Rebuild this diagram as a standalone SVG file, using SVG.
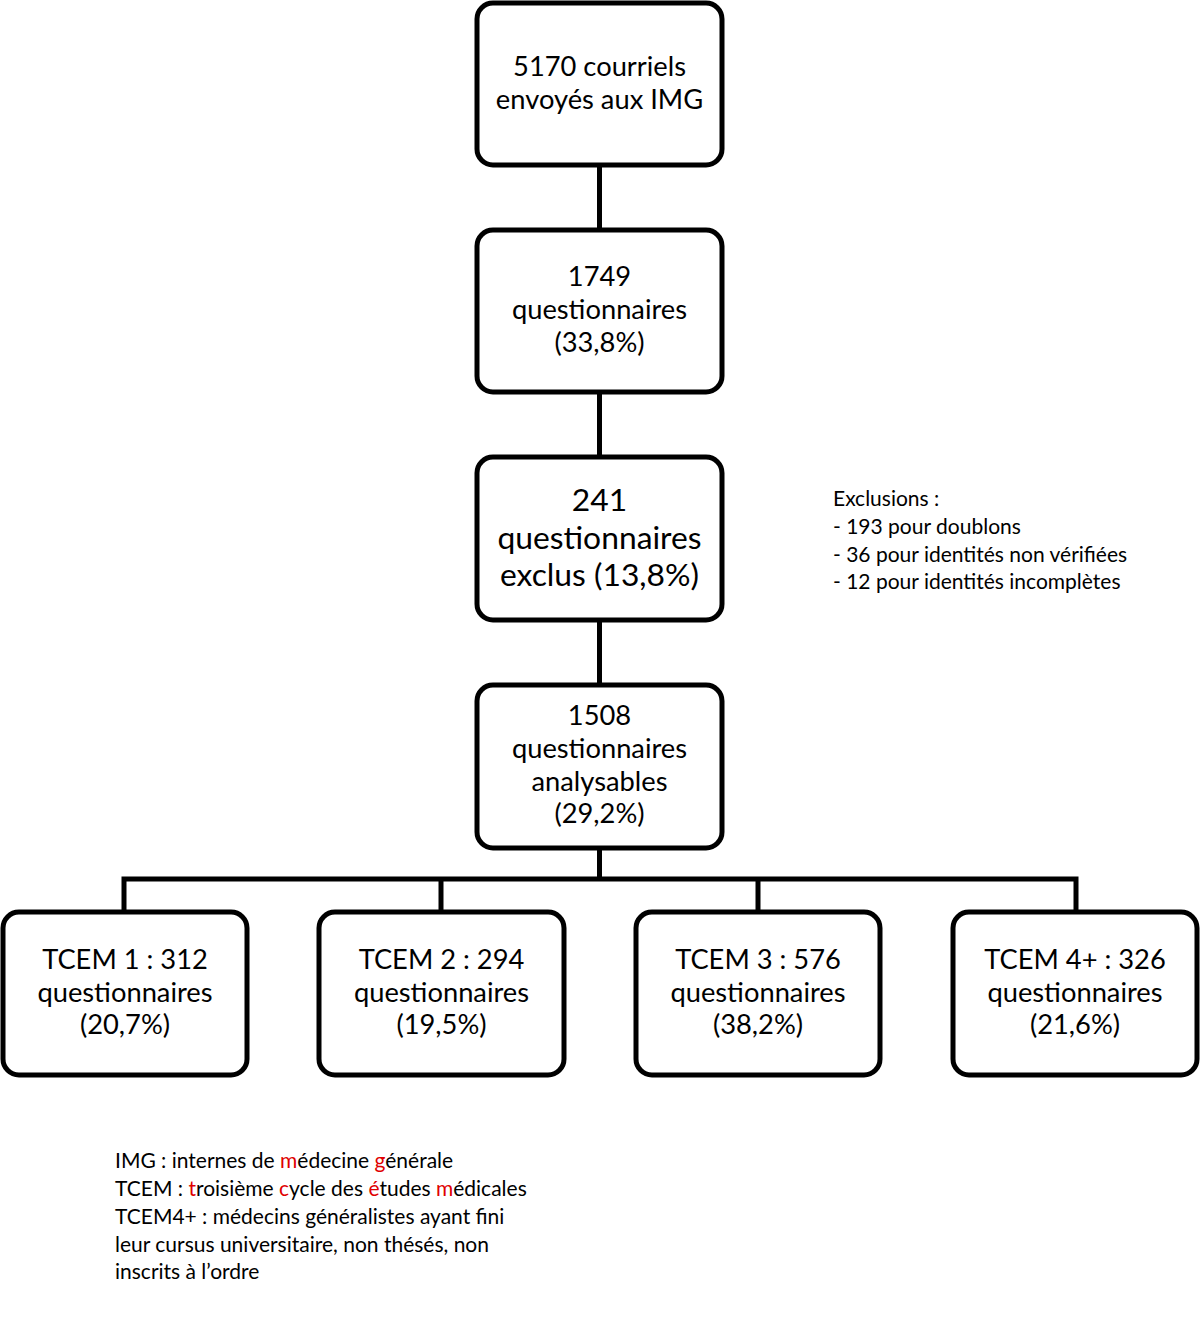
<svg xmlns="http://www.w3.org/2000/svg" width="1200" height="1327" viewBox="0 0 1200 1327">
<style>
.box{fill:#fff;stroke:#000;stroke-width:5}
.t{font-family:Lato,"Open Sans","Liberation Sans",sans-serif;font-size:27.3px;text-anchor:middle;fill:#000}
.tb{font-family:Lato,"Open Sans","Liberation Sans",sans-serif;font-size:31.8px;text-anchor:middle;fill:#000}
.s{font-family:Lato,"Open Sans","Liberation Sans",sans-serif;font-size:21px;fill:#000}
.r{fill:#e00000}
.c{fill:none;stroke:#000;stroke-width:5}
</style>
<rect width="1200" height="1327" fill="#fff"/>
<g id="connectors">
<line class="c" x1="599.5" y1="165" x2="599.5" y2="230"/>
<line class="c" x1="599.5" y1="392" x2="599.5" y2="457"/>
<line class="c" x1="599.5" y1="620" x2="599.5" y2="685"/>
<line class="c" x1="599.5" y1="848" x2="599.5" y2="879"/>
<polyline class="c" points="124,912 124,879 1076,879 1076,912"/>
<line class="c" x1="441" y1="879" x2="441" y2="912"/>
<line class="c" x1="758" y1="879" x2="758" y2="912"/>
</g>
<g id="n1">
<rect class="box" x="477" y="3" width="245" height="162" rx="16"/>
<text class="t" x="599.5" y="76">5170 courriels</text>
<text class="t" x="599.5" y="109">envoyés aux IMG</text>
</g>
<g id="n2">
<rect class="box" x="477" y="230" width="245" height="162" rx="16"/>
<text class="t" x="599.5" y="286">1749</text>
<text class="t" x="599.5" y="319">questionnaires</text>
<text class="t" x="599.5" y="352">(33,8%)</text>
</g>
<g id="n3">
<rect class="box" x="477" y="457" width="245" height="163" rx="16"/>
<text class="tb" x="599.5" y="511">241</text>
<text class="tb" x="599.5" y="549">questionnaires</text>
<text class="tb" x="599.5" y="586">exclus (13,8%)</text>
</g>
<g id="exclusions">
<text class="s" x="833" y="506">Exclusions :</text>
<text class="s" x="833" y="534">- 193 pour doublons</text>
<text class="s" x="833" y="562">- 36 pour identités non vérifiées</text>
<text class="s" x="833" y="589">- 12 pour identités incomplètes</text>
</g>
<g id="n4">
<rect class="box" x="477" y="685" width="245" height="163" rx="16"/>
<text class="t" x="599.5" y="725">1508</text>
<text class="t" x="599.5" y="758">questionnaires</text>
<text class="t" x="599.5" y="791">analysables</text>
<text class="t" x="599.5" y="823">(29,2%)</text>
</g>
<g id="n5">
<rect class="box" x="3" y="912" width="244" height="163" rx="16"/>
<text class="t" x="125" y="969">TCEM 1 : 312</text>
<text class="t" x="125" y="1002">questionnaires</text>
<text class="t" x="125" y="1034">(20,7%)</text>
</g>
<g id="n6">
<rect class="box" x="319" y="912" width="245" height="163" rx="16"/>
<text class="t" x="441.5" y="969">TCEM 2 : 294</text>
<text class="t" x="441.5" y="1002">questionnaires</text>
<text class="t" x="441.5" y="1034">(19,5%)</text>
</g>
<g id="n7">
<rect class="box" x="636" y="912" width="244" height="163" rx="16"/>
<text class="t" x="758" y="969">TCEM 3 : 576</text>
<text class="t" x="758" y="1002">questionnaires</text>
<text class="t" x="758" y="1034">(38,2%)</text>
</g>
<g id="n8">
<rect class="box" x="953" y="912" width="244" height="163" rx="16"/>
<text class="t" x="1075" y="969">TCEM 4+ : 326</text>
<text class="t" x="1075" y="1002">questionnaires</text>
<text class="t" x="1075" y="1034">(21,6%)</text>
</g>
<g id="legend">
<text class="s" x="115" y="1168">IMG : internes de <tspan class="r">m</tspan>édecine <tspan class="r">g</tspan>énérale</text>
<text class="s" x="115" y="1196">TCEM : <tspan class="r">t</tspan>roisième <tspan class="r">c</tspan>ycle des <tspan class="r">é</tspan>tudes <tspan class="r">m</tspan>édicales</text>
<text class="s" x="115" y="1224">TCEM4+ : médecins généralistes ayant fini</text>
<text class="s" x="115" y="1252">leur cursus universitaire, non thésés, non</text>
<text class="s" x="115" y="1279">inscrits à l’ordre</text>
</g>
</svg>
